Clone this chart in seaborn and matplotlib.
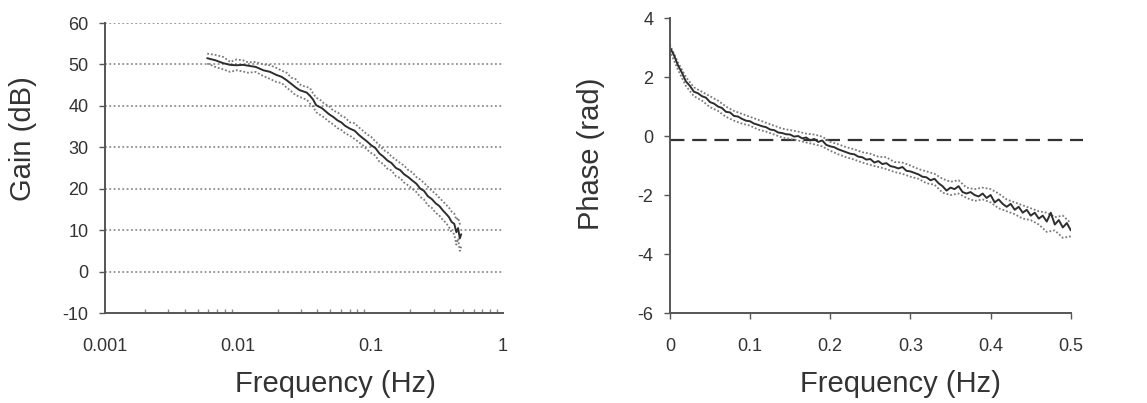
import numpy as np
import pandas as pd
import matplotlib
matplotlib.use("Agg")
import matplotlib.pyplot as plt
import seaborn as sns
from matplotlib.ticker import LogLocator, FuncFormatter

# ---------------- data: gain ----------------
gain_freq = [0.0059, 0.0068, 0.0078, 0.0088, 0.0098, 0.0110, 0.0120, 0.0137, 0.0156, 0.0176,
             0.0195, 0.0215, 0.0234, 0.0254, 0.0273, 0.0293, 0.0312, 0.0332, 0.0352, 0.0371,
             0.0390, 0.0410, 0.0430, 0.0449, 0.0488, 0.0527, 0.0566, 0.0605, 0.0645, 0.0703,
             0.0762, 0.0820, 0.0879, 0.0938, 0.1016, 0.1094, 0.1172, 0.1250, 0.1348, 0.1445,
             0.1562, 0.1680, 0.1797, 0.1934, 0.2070, 0.2227, 0.2383, 0.2539, 0.2715, 0.2910,
             0.3105, 0.3320, 0.3516, 0.3711, 0.3906, 0.4102, 0.4297, 0.4453, 0.4590, 0.4727,
             0.4844]
gain_mean = [51.5, 51.0, 50.3, 49.9, 49.8, 49.9, 49.7, 49.4, 48.6, 48.2,
             47.5, 47.0, 46.2, 45.3, 44.5, 43.8, 43.5, 43.2, 42.4, 41.5,
             40.2, 39.8, 39.5, 39.0, 38.0, 37.3, 36.5, 36.0, 35.2, 34.5,
             34.0, 33.0, 32.2, 31.5, 30.5, 29.8, 28.5, 27.8, 26.8, 26.2,
             25.0, 24.5, 23.5, 22.8, 22.0, 21.2, 20.0, 19.5, 18.2, 17.5,
             16.5, 15.8, 14.8, 14.0, 13.2, 12.0, 11.5, 9.5, 10.5, 8.0,
             9.0]
gain_upper = [52.6, 52.3, 51.8, 50.6, 51.2, 51.0, 50.5, 50.6, 50.0, 49.8,
              49.2, 48.5, 48.0, 46.8, 46.5, 45.2, 44.8, 44.6, 44.2, 43.0,
              42.0, 41.6, 41.2, 40.5, 40.0, 38.8, 38.5, 37.6, 37.2, 36.0,
              35.8, 34.8, 34.0, 33.2, 32.5, 31.4, 30.6, 29.4, 28.8, 27.8,
              27.0, 26.2, 25.6, 24.5, 24.0, 22.8, 22.2, 21.4, 20.5, 19.5,
              18.8, 17.8, 17.0, 16.2, 15.5, 14.5, 14.0, 12.5, 13.0, 11.5,
              12.0]
gain_lower = [50.2, 49.4, 48.8, 48.2, 48.6, 48.3, 48.0, 48.2, 47.2, 46.5,
              45.8, 45.5, 44.4, 43.5, 42.6, 42.2, 41.8, 41.5, 40.5, 39.8,
              38.5, 38.0, 37.6, 37.2, 36.2, 35.5, 34.6, 34.2, 33.4, 32.8,
              32.0, 31.2, 30.5, 29.5, 28.6, 28.0, 26.5, 26.0, 24.8, 24.4,
              23.0, 22.6, 21.5, 20.8, 20.0, 19.2, 18.0, 17.4, 16.0, 15.4,
              14.2, 13.5, 12.5, 11.8, 10.8, 9.5, 9.0, 6.5, 8.0, 5.0,
              6.0]

# ---------------- data: phase ----------------
phase_freq = np.round(np.arange(101) * 0.005, 3)
phase_mean = [3.00, 2.75, 2.40, 2.15, 1.85, 1.70, 1.50, 1.45, 1.35, 1.30,
              1.15, 1.10, 1.00, 0.95, 0.82, 0.80, 0.68, 0.66, 0.58, 0.52,
              0.50, 0.42, 0.38, 0.33, 0.30, 0.22, 0.20, 0.12, 0.10, 0.06,
              0.05, -0.02, 0.00, -0.08, -0.05, -0.15, -0.10, -0.20, -0.15, -0.30,
              -0.35, -0.38, -0.45, -0.50, -0.55, -0.60, -0.62, -0.70, -0.72, -0.80,
              -0.78, -0.90, -0.85, -0.95, -0.92, -1.02, -1.05, -1.10, -1.05, -1.18,
              -1.20, -1.25, -1.30, -1.38, -1.40, -1.50, -1.45, -1.60, -1.70, -1.85,
              -1.75, -1.80, -1.70, -1.90, -1.95, -1.90, -2.00, -2.05, -1.95, -2.10,
              -2.00, -2.25, -2.15, -2.30, -2.40, -2.30, -2.50, -2.40, -2.60, -2.50,
              -2.70, -2.60, -2.80, -2.70, -2.90, -2.60, -3.00, -2.85, -3.10, -2.95,
              -3.20]
band_freq = np.round(np.arange(51) * 0.01, 2)
phase_upper = [3.10, 2.50, 2.00, 1.65, 1.50, 1.35, 1.20, 1.00, 0.85, 0.75,
               0.65, 0.55, 0.45, 0.35, 0.25, 0.20, 0.15, 0.08, 0.05, -0.02,
               -0.20, -0.28, -0.38, -0.45, -0.55, -0.60, -0.70, -0.72, -0.88, -0.90,
               -1.00, -1.12, -1.20, -1.28, -1.45, -1.55, -1.50, -1.75, -1.80, -1.75,
               -1.80, -1.95, -2.15, -2.25, -2.35, -2.45, -2.55, -2.60, -2.75, -2.70,
               -2.95]
phase_lower = [2.90, 2.25, 1.70, 1.35, 1.20, 0.98, 0.85, 0.65, 0.52, 0.42,
               0.35, 0.22, 0.15, 0.05, -0.05, -0.10, -0.15, -0.22, -0.28, -0.35,
               -0.50, -0.62, -0.72, -0.80, -0.90, -0.98, -1.05, -1.12, -1.22, -1.28,
               -1.38, -1.45, -1.60, -1.65, -1.92, -2.00, -1.95, -2.10, -2.20, -2.15,
               -2.25, -2.45, -2.55, -2.65, -2.80, -2.85, -3.00, -3.25, -3.20, -3.45,
               -3.40]
phase_ref = -0.13

# ---------------- style ----------------
sns.set_theme(style="white")
plt.rcParams["font.family"] = ["Liberation Sans", "DejaVu Sans"]
plt.rcParams["axes.unicode_minus"] = False
axis_col = "#555555"
text_col = "#333333"
line_col = "#2e2e2e"
band_col = "#7a7a7a"

fig = plt.figure(figsize=(11.47, 4.03), dpi=100)
ax1 = fig.add_axes([0.0915, 0.2233, 0.347, 0.7196])
ax2 = fig.add_axes([0.584, 0.2233, 0.3496, 0.732])

# ---------- Gain panel ----------
gdf = pd.DataFrame({"f": gain_freq, "mean": gain_mean, "up": gain_upper, "lo": gain_lower})
for yv in [0, 10, 20, 30, 40, 50, 60]:
    ax1.axhline(yv, color="#8f8f8f", lw=1.3, ls=(0, (1, 1.4)), zorder=0)
sns.lineplot(data=gdf, x="f", y="up", ax=ax1, color=band_col, lw=1.3, ls=(0, (1, 1.1)))
sns.lineplot(data=gdf, x="f", y="lo", ax=ax1, color=band_col, lw=1.3, ls=(0, (1, 1.1)))
sns.lineplot(data=gdf, x="f", y="mean", ax=ax1, color=line_col, lw=1.4)
ax1.set_xscale("log")
ax1.set_xlim(0.001, 1)
ax1.set_ylim(-10, 60)
ax1.set_yticks([-10, 0, 10, 20, 30, 40, 50, 60])
ax1.set_xticks([0.001, 0.01, 0.1, 1])
ax1.xaxis.set_major_formatter(FuncFormatter(
    lambda v, p: {0.001: "0.001", 0.01: "0.01", 0.1: "0.1", 1.0: "1"}.get(round(v, 3), "")))
ax1.xaxis.set_minor_locator(LogLocator(base=10, subs=np.arange(2, 10)))
ax1.xaxis.set_minor_formatter(FuncFormatter(lambda v, p: ""))
ax1.tick_params(axis="x", which="major", direction="out", length=4, width=1, color=axis_col,
                pad=14, labelsize=13, labelcolor=text_col)
ax1.tick_params(axis="x", which="minor", direction="in", length=3, width=1, color="#888888",
                bottom=True)
ax1.tick_params(axis="y", which="major", direction="out", length=4, width=1, color=axis_col,
                pad=8, labelsize=13, labelcolor=text_col, left=True)
ax1.set_xlabel("Frequency (Hz)", fontsize=21, color=text_col, labelpad=11, x=0.578)
ax1.set_ylabel("Gain (dB)", fontsize=21, color=text_col, labelpad=18, y=0.6)
for s in ["top", "right"]:
    ax1.spines[s].set_visible(False)
for s in ["left", "bottom"]:
    ax1.spines[s].set_color(axis_col)
    ax1.spines[s].set_linewidth(1.4)

# ---------- Phase panel ----------
pdf = pd.DataFrame({"f": phase_freq, "mean": phase_mean})
bdf = pd.DataFrame({"f": band_freq, "up": phase_upper, "lo": phase_lower})
sns.lineplot(data=bdf, x="f", y="up", ax=ax2, color=band_col, lw=1.3, ls=(0, (1, 1.1)))
sns.lineplot(data=bdf, x="f", y="lo", ax=ax2, color=band_col, lw=1.3, ls=(0, (1, 1.1)))
sns.lineplot(data=pdf, x="f", y="mean", ax=ax2, color=line_col, lw=1.4)
ax2.plot([0, 0.515], [phase_ref, phase_ref], color="#333333", lw=1.6, ls=(0, (6.5, 3.5)),
         clip_on=False, zorder=1)
ax2.set_xlim(0, 0.5)
ax2.set_ylim(-6, 4)
ax2.set_yticks([-6, -4, -2, 0, 2, 4])
ax2.set_xticks([0, 0.1, 0.2, 0.3, 0.4, 0.5])
ax2.set_xticklabels(["0", "0.1", "0.2", "0.3", "0.4", "0.5"])
ax2.tick_params(axis="x", which="major", direction="out", length=4, width=1, color=axis_col,
                pad=14, labelsize=13, labelcolor=text_col, bottom=True)
ax2.tick_params(axis="y", which="major", direction="out", length=4, width=1, color=axis_col,
                pad=8, labelsize=13, labelcolor=text_col, left=True)
ax2.set_xlabel("Frequency (Hz)", fontsize=21, color=text_col, labelpad=11, x=0.574)
ax2.set_ylabel("Phase (rad)", fontsize=21, color=text_col, labelpad=23, y=0.54)
for s in ["top", "right"]:
    ax2.spines[s].set_visible(False)
for s in ["left", "bottom"]:
    ax2.spines[s].set_color(axis_col)
    ax2.spines[s].set_linewidth(1.4)

fig.savefig("out.png", dpi=100)
